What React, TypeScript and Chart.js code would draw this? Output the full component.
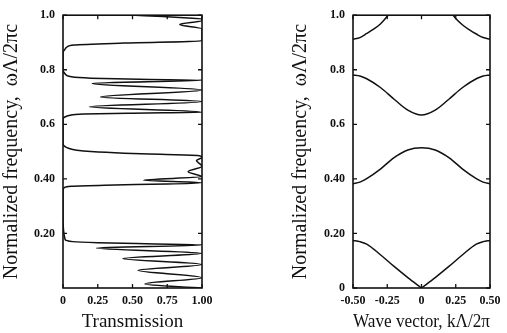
import React, { useEffect, useRef } from "react";
import { Chart, registerables } from "chart.js";
Chart.register(...registerables);

// Transmission spectrum (left panel): frequency vs transmission
const transFreq = [
  0.0, 0.015, 0.038, 0.065, 0.086, 0.108, 0.127, 0.147, 0.158, 0.162, 0.166, 0.17, 0.178, 0.26, 0.36,
  0.368, 0.373, 0.377, 0.381, 0.386, 0.395, 0.408, 0.426, 0.446, 0.467, 0.479, 0.486, 0.49, 0.494, 0.5, 0.505, 0.512, 0.52, 0.53, 0.62,
  0.626, 0.633, 0.638, 0.641, 0.644, 0.664, 0.683, 0.7, 0.726, 0.75, 0.762, 0.765, 0.769, 0.774, 0.785, 0.8, 0.865,
  0.872, 0.884, 0.891, 0.898, 0.906, 0.95, 0.966, 0.98, 0.986, 0.99, 0.995, 1.0,
];
const transValue = [
  1.0, 0.59, 1.0, 0.54, 1.0, 0.43, 1.0, 0.24, 1.0, 0.6, 0.25, 0.07, 0.015, 0.0, 0.0,
  0.01, 0.06, 0.3, 0.75, 1.0, 0.58, 1.0, 0.9, 1.0, 0.96, 1.0, 0.97, 0.7, 0.44, 0.2, 0.1, 0.04, 0.01, 0.0, 0.0,
  0.01, 0.05, 0.15, 0.5, 1.0, 0.19, 1.0, 0.27, 1.0, 0.21, 1.0, 0.55, 0.2, 0.06, 0.015, 0.0, 0.0,
  0.01, 0.03, 0.08, 0.44, 1.0, 1.0, 0.84, 1.0, 1.0, 0.9, 0.72, 0.52,
];

// Band structure (right panel)
const bandK = [-0.5, -0.45, -0.4, -0.3, -0.2, -0.1, 0, 0.1, 0.2, 0.3, 0.4, 0.45, 0.5];
const band1 = [0.174, 0.17, 0.161, 0.122, 0.079, 0.038, 0, 0.038, 0.079, 0.122, 0.161, 0.17, 0.174];
const band2 = [0.382, 0.388, 0.401, 0.436, 0.478, 0.506, 0.514, 0.506, 0.478, 0.436, 0.401, 0.388, 0.382];
const band3 = [0.781, 0.777, 0.767, 0.735, 0.692, 0.652, 0.634, 0.652, 0.692, 0.735, 0.767, 0.777, 0.781];
const band4LeftK = [-0.5, -0.45, -0.4, -0.35, -0.3, -0.25, -0.2];
const band4Left = [0.912, 0.918, 0.933, 0.949, 0.968, 0.996, 1.03];
const band4RightK = [0.2, 0.25, 0.3, 0.35, 0.4, 0.45, 0.5];
const band4Right = [1.02, 0.988, 0.964, 0.946, 0.931, 0.918, 0.912];

// Tick values and labels
const leftXTicks = [0, 0.25, 0.5, 0.75, 1];
const leftXLabels = ["0", "0.25", "0.50", "0.75", "1.00"];
const leftYTicks = [0.2, 0.4, 0.6, 0.8, 1.0];
const leftYLabels = ["0.20", "0.40", "0.6", "0.8", "1.0"];
const rightXTicks = [-0.5, -0.25, 0, 0.25, 0.5];
const rightXLabels = ["-0.50", "-0.25", "0", "0.25", "0.50"];
const rightYTicks = [0, 0.2, 0.4, 0.6, 0.8, 1.0];
const rightYLabels = ["0", "0.20", "0.40", "0.6", "0.8", "1.0"];

const yTitle = "Normalized frequency,  \u03c9\u039b/2\u03c0c";
const leftXTitle = "Transmission";
const rightXTitle = "Wave vector, k\u039b/2\u03c0";

const INK = "#111";
const SERIF = "'Liberation Serif', 'DejaVu Serif', serif";

const framePlugin = {
  id: "frame",
  afterDatasetsDraw(chart: any) {
    const { ctx, chartArea: a, scales } = chart;
    ctx.save();
    ctx.strokeStyle = INK;
    ctx.lineWidth = 1.6;
    ctx.strokeRect(a.left, a.top, a.right - a.left, a.bottom - a.top);
    const len = 4;
    ctx.lineWidth = 1.3;
    ctx.beginPath();
    scales.x.ticks.forEach((t: any) => {
      const px = scales.x.getPixelForValue(t.value);
      ctx.moveTo(px, a.bottom);
      ctx.lineTo(px, a.bottom - len);
      ctx.moveTo(px, a.top);
      ctx.lineTo(px, a.top + len);
    });
    scales.y.ticks.forEach((t: any) => {
      const py = scales.y.getPixelForValue(t.value);
      ctx.moveTo(a.left, py);
      ctx.lineTo(a.left + len, py);
      ctx.moveTo(a.right, py);
      ctx.lineTo(a.right - len, py);
    });
    ctx.stroke();
    ctx.restore();
  },
};

function makeAxis(
  min: number,
  max: number,
  values: number[],
  labels: string[],
  title: string,
  isX: boolean,
  size: number,
  padding: number
) {
  return {
    type: "linear",
    min,
    max,
    afterBuildTicks: (s: any) => {
      s.ticks = values.map((v) => ({ value: v }));
    },
    afterFit: (s: any) => {
      if (isX) s.height = size;
      else s.width = size;
    },
    ticks: {
      callback: (_v: any, i: number) => labels[i],
      font: { family: SERIF, size: 12, weight: "bold" },
      color: INK,
      padding,
      autoSkip: false,
      maxRotation: 0,
    },
    grid: { display: false, drawTicks: false },
    border: { display: false },
    title: {
      display: true,
      text: title,
      color: INK,
      font: { family: SERIF, size: isX ? 19 : 20, lineHeight: 1.2 },
      padding: 0,
    },
  };
}

const lineStyle = {
  borderColor: INK,
  borderWidth: 1.5,
  pointRadius: 0,
  fill: false,
  cubicInterpolationMode: "monotone" as const,
};

function pts(xs: number[], ys: number[]) {
  return xs.map((x, i) => ({ x, y: ys[i] }));
}

export default function App() {
  const leftRef = useRef<HTMLCanvasElement>(null);
  const rightRef = useRef<HTMLCanvasElement>(null);

  useEffect(() => {
    const left = new Chart(leftRef.current!, {
      type: "line",
      data: {
        datasets: [
          {
            ...lineStyle,
            data: transFreq.map((f, i) => ({ x: transValue[i], y: f })),
          },
        ],
      },
      options: {
        indexAxis: "y",
        responsive: false,
        animation: false,
        layout: { padding: { left: 0, top: 15, right: 51, bottom: 0 } },
        plugins: { legend: { display: false }, tooltip: { enabled: false } },
        scales: {
          x: makeAxis(0, 1, leftXTicks, leftXLabels, leftXTitle, true, 45, 6),
          y: makeAxis(0, 1, leftYTicks, leftYLabels, yTitle, false, 63, 8),
        },
      } as any,
      plugins: [framePlugin],
    });

    const right = new Chart(rightRef.current!, {
      type: "line",
      data: {
        datasets: [
          { ...lineStyle, data: pts(bandK.slice(0, 7), band1.slice(0, 7)) },
          { ...lineStyle, data: pts(bandK.slice(6), band1.slice(6)) },
          { ...lineStyle, data: pts(bandK, band2) },
          { ...lineStyle, data: pts(bandK, band3) },
          { ...lineStyle, data: pts(band4LeftK, band4Left) },
          { ...lineStyle, data: pts(band4RightK, band4Right) },
        ],
      },
      options: {
        responsive: false,
        animation: false,
        layout: { padding: { left: 36, top: 15, right: 17, bottom: 0 } },
        plugins: { legend: { display: false }, tooltip: { enabled: false } },
        scales: {
          x: makeAxis(-0.5, 0.5, rightXTicks, rightXLabels, rightXTitle, true, 45, 6),
          y: makeAxis(0, 1, rightYTicks, rightYLabels, yTitle, false, 64, 8),
        },
      } as any,
      plugins: [framePlugin],
    });

    return () => {
      left.destroy();
      right.destroy();
    };
  }, []);

  return (
    <div
      style={{
        position: "absolute",
        left: 0,
        top: 0,
        width: 507,
        height: 333,
        background: "#fff",
      }}
    >
      <canvas
        ref={leftRef}
        width={253}
        height={333}
        style={{ position: "absolute", left: 0, top: 0 }}
      />
      <canvas
        ref={rightRef}
        width={254}
        height={333}
        style={{ position: "absolute", left: 253, top: 0 }}
      />
    </div>
  );
}
